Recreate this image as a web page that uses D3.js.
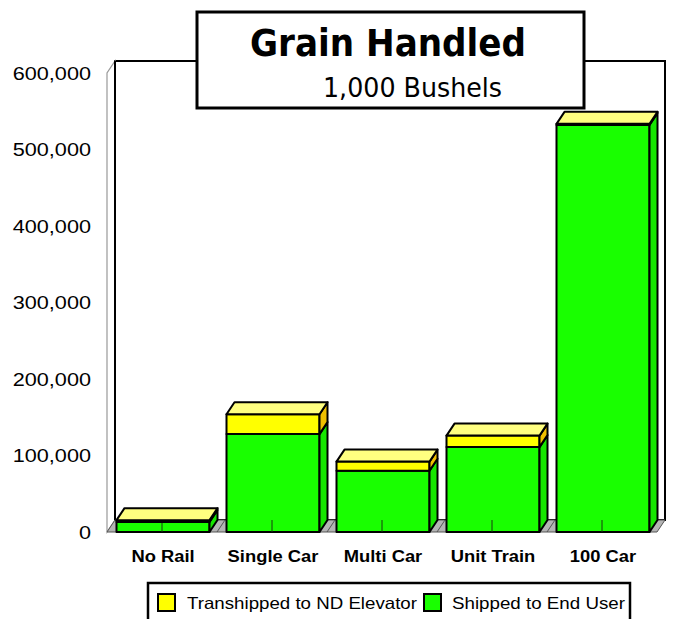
<!DOCTYPE html>
<html><head><meta charset="utf-8">
<script src="https://cdn.jsdelivr.net/npm/d3@7/dist/d3.min.js"></script>
<style>body{margin:0;background:#fff}svg{display:block}</style>
</head><body>
<svg id="c" width="675" height="619"></svg>
<script>
const categories = ["No Rail", "Single Car", "Multi Car", "Unit Train", "100 Car"];
const shippedToEndUser = [13000, 128000, 80000, 111000, 532000];
const transhippedToND = [2500, 26000, 12000, 15000, 1500];
const yTicks = [0, 100000, 200000, 300000, 400000, 500000, 600000];
const seriesNames = ["Transhipped to ND Elevator", "Shipped to End User"];
const titleText = "Grain Handled";
const subtitleText = "1,000 Bushels";

const svg = d3.select("#c");
const DX = 8, DY = -12;
const x0 = 107, x1 = 657, yBot = 532, yTop = 73;
const x = d3.scaleBand().domain(categories).range([x0, x1]).padding(0);
const y = d3.scaleLinear().domain([0, 600000]).range([yBot, yTop]);
const bw = 93;
const GREEN = "#19ff00", GREEN_SIDE = "#17e600", YEL = "#ffff00", YEL_SIDE = "#f0c000", TOPC = "#ffff80";

// back wall
svg.append("rect").attr("x", x0 + DX).attr("y", yTop + DY).attr("width", x1 - x0).attr("height", yBot - yTop)
  .attr("fill", "#fff").attr("stroke", "#000").attr("stroke-width", 2);
// left wall
svg.append("path").attr("d", `M${x0},${yBot} L${x0},${yTop} L${x0+DX},${yTop+DY} L${x0+DX},${yBot+DY} Z`)
  .attr("fill", "#fff").attr("stroke", "#999").attr("stroke-width", 1.2);
svg.append("line").attr("x1", x0+DX).attr("x2", x0+DX).attr("y1", yTop+DY).attr("y2", yBot+DY)
  .attr("stroke", "#000").attr("stroke-width", 2);
// floor
svg.append("path").attr("d", `M${x0},${yBot} L${x1},${yBot} L${x1+DX},${yBot+DY} L${x0+DX},${yBot+DY} Z`)
  .attr("fill", "#b4b4b4").attr("stroke", "#555").attr("stroke-width", 1);
const step = x.step();
categories.forEach((c, i) => {
  const bx = x(c);
  if (i > 0) svg.append("line").attr("x1", bx).attr("y1", yBot).attr("x2", bx + DX).attr("y2", yBot + DY)
    .attr("stroke", "#555").attr("stroke-width", 1);
});

// y labels
const yAx = svg.append("g");
yTicks.forEach(t => {
  yAx.append("text").attr("transform", `translate(91,${y(t) + 6.5}) scale(1.14,1)`)
    .attr("text-anchor", "end").attr("font-family", "Liberation Sans, Arial, sans-serif")
    .attr("font-size", 19).attr("fill", "#000").text(d3.format(",")(t));
});

function face(d, fill) {
  svg.append("path").attr("d", d).attr("fill", fill).attr("stroke", "#000")
    .attr("stroke-width", 2).attr("stroke-linejoin", "round");
}

categories.forEach((c, i) => {
  const cx = x(c) + step / 2 + 1;
  const L = cx - bw / 2, R = cx + bw / 2;
  const g0 = y(0), g1 = y(shippedToEndUser[i]), t1 = y(shippedToEndUser[i] + transhippedToND[i]);
  face(`M${L},${g0} L${R},${g0} L${R},${g1} L${L},${g1} Z`, GREEN);
  face(`M${R},${g0} L${R+DX},${g0+DY} L${R+DX},${g1+DY} L${R},${g1} Z`, GREEN_SIDE);
  svg.append("line").attr("x1", cx - 1).attr("x2", cx - 1).attr("y1", g0 + DY).attr("y2", g0)
    .attr("stroke", "#1a3a10").attr("stroke-width", 1);
  face(`M${L},${g1} L${R},${g1} L${R},${t1} L${L},${t1} Z`, YEL);
  face(`M${R},${g1} L${R+DX},${g1+DY} L${R+DX},${t1+DY} L${R},${t1} Z`, YEL_SIDE);
  face(`M${L},${t1} L${R},${t1} L${R+DX},${t1+DY} L${L+DX},${t1+DY} Z`, TOPC);
  svg.append("text").attr("transform", `translate(${cx},562) scale(1.08,1)`).attr("text-anchor", "middle")
    .attr("font-family", "Liberation Sans, Arial, sans-serif").attr("font-weight", "bold")
    .attr("font-size", 17).attr("fill", "#000").text(c);
});

// title box
svg.append("rect").attr("x", 197).attr("y", 12).attr("width", 387).attr("height", 96)
  .attr("fill", "#fff").attr("stroke", "#000").attr("stroke-width", 3);
svg.append("text").attr("x", 250).attr("y", 56).attr("textLength", 276).attr("lengthAdjust", "spacingAndGlyphs")
  .attr("font-family", "DejaVu Sans, Verdana, sans-serif").attr("font-weight", "bold").attr("font-size", 37)
  .attr("fill", "#000").text(titleText);
svg.append("text").attr("x", 323).attr("y", 97).attr("textLength", 179).attr("lengthAdjust", "spacingAndGlyphs")
  .attr("font-family", "DejaVu Sans, Verdana, sans-serif").attr("font-size", 27)
  .attr("fill", "#000").text(subtitleText);

// legend
svg.append("rect").attr("x", 148).attr("y", 583).attr("width", 482).attr("height", 50)
  .attr("fill", "#fff").attr("stroke", "#000").attr("stroke-width", 2.5);
const legItems = [
  {name: seriesNames[0], color: YEL, sx: 158, tx: 187, w: 230},
  {name: seriesNames[1], color: GREEN, sx: 424, tx: 452, w: 173}
];
legItems.forEach(it => {
  svg.append("rect").attr("x", it.sx).attr("y", 594).attr("width", 17).attr("height", 17)
    .attr("fill", it.color).attr("stroke", "#000").attr("stroke-width", 2);
  svg.append("text").attr("x", it.tx).attr("y", 609).attr("textLength", it.w).attr("lengthAdjust", "spacingAndGlyphs")
    .attr("font-family", "Liberation Sans, Arial, sans-serif").attr("font-size", 16.5).attr("fill", "#000").text(it.name);
});
</script>
</body></html>
